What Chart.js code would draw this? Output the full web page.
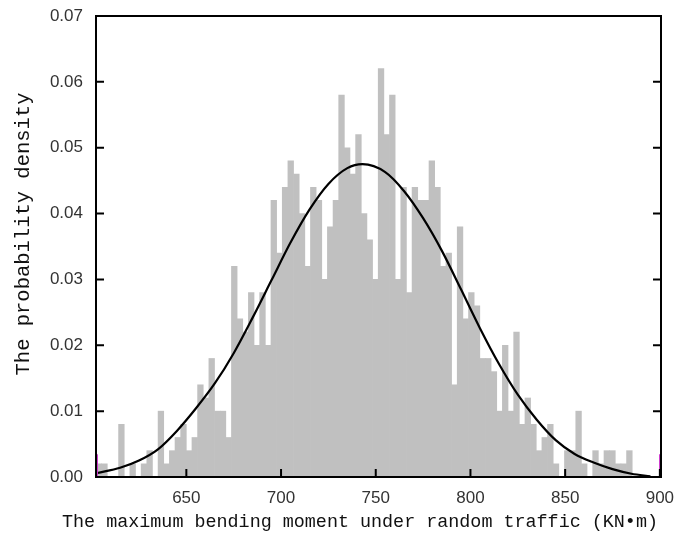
<!DOCTYPE html>
<html>
<head>
<meta charset="utf-8">
<script src="https://cdn.jsdelivr.net/npm/chart.js@4.4.1/dist/chart.umd.min.js"></script>
<style>
  html, body { margin: 0; padding: 0; background: #fff; }
  #wrap { width: 675px; height: 540px; }
</style>
</head>
<body>
<div id="wrap"><canvas id="histChart" width="675" height="540"></canvas></div>
<script>
// 100 equal bins, heights
const binStart = 602.3;
const binWidth = 2.98;
const binHeights = [
  0.002, 0.002, 0, 0, 0.008, 0, 0.002, 0, 0.002, 0.004,
  0, 0.010, 0.002, 0.004, 0.006, 0.008, 0.004, 0.006, 0.014, 0.012,
  0.018, 0.010, 0.010, 0.006, 0.032, 0.024, 0.022, 0.028, 0.020, 0.028,
  0.020, 0.042, 0.034, 0.044, 0.048, 0.046, 0.040, 0.032, 0.044, 0.042,
  0.030, 0.038, 0.042, 0.058, 0.050, 0.046, 0.052, 0.040, 0.036, 0.030,
  0.062, 0.052, 0.058, 0.030, 0.044, 0.028, 0.044, 0.042, 0.042, 0.048,
  0.044, 0.032, 0.034, 0.014, 0.038, 0.024, 0.028, 0.026, 0.018, 0.018,
  0.016, 0.010, 0.020, 0.010, 0.022, 0.008, 0.012, 0.008, 0.004, 0.006,
  0.008, 0.002, 0, 0.004, 0.004, 0.010, 0.002, 0, 0.004, 0.002,
  0.004, 0.004, 0.002, 0.002, 0.004, 0, 0, 0, 0, 0
];

// fitted density curve
const curveX = [603, 615, 625, 635, 645, 655, 665, 675, 685, 695, 705, 715, 725, 735, 743,
                755, 765, 775, 785, 795, 805, 815, 825, 835, 845, 855, 865, 875, 885, 895];
const curveY = [0.0006, 0.0014, 0.0025, 0.0042, 0.0070, 0.0104, 0.0142, 0.0188, 0.0242, 0.0299,
                0.0356, 0.0406, 0.0445, 0.0469, 0.0475, 0.0463, 0.0434, 0.0393, 0.0343, 0.0285,
                0.0226, 0.0172, 0.0125, 0.0087, 0.0056, 0.0035, 0.0022, 0.0012, 0.0005, 0.0001];

// small magenta marks at both ends of the range
const edgeMarkX = [602.8, 900.1];
const edgeMarkY = [0.0018, 0.0018];

const xTickValues = [650, 700, 750, 800, 850, 900];
const yTickValues = [0, 0.01, 0.02, 0.03, 0.04, 0.05, 0.06, 0.07];

const xTitle = 'The maximum bending moment under random traffic (KN\u2022m)';
const yTitle = 'The probability density';

const xMin = 602.3;
const xMax = 900.6;

const tickFont = { family: "'Liberation Sans', Arial, sans-serif", size: 17 };
const titleFamily = "'Liberation Mono', 'DejaVu Sans Mono', monospace";

// box around the plot, inward tick marks and the two axis titles
const framePlugin = {
    id: 'frame',
    afterDatasetsDraw(chart) {
        const { ctx, chartArea: a, scales: { x, y } } = chart;
        ctx.save();
        ctx.strokeStyle = '#000';
        ctx.lineWidth = 2;
        ctx.strokeRect(a.left, a.top, a.right - a.left, a.bottom - a.top);
        ctx.beginPath();
        yTickValues.forEach(v => {
            const py = y.getPixelForValue(v);
            ctx.moveTo(a.left, py);
            ctx.lineTo(a.left + 8, py);
            ctx.moveTo(a.right, py);
            ctx.lineTo(a.right - 8, py);
        });
        xTickValues.forEach(v => {
            const px = x.getPixelForValue(v);
            ctx.moveTo(px, a.bottom);
            ctx.lineTo(px, a.bottom - 8);
        });
        ctx.stroke();

        ctx.fillStyle = '#111';
        ctx.textAlign = 'center';
        ctx.textBaseline = 'middle';
        ctx.font = '18.4px ' + titleFamily;
        ctx.fillText(xTitle, 360, 522);
        ctx.translate(24, 234);
        ctx.rotate(-Math.PI / 2);
        ctx.font = '20.5px ' + titleFamily;
        ctx.fillText(yTitle, 0, 0);
        ctx.restore();
    }
};

const barPoints = binHeights.map((h, i) => ({ x: binStart + binWidth * (i + 0.5), y: h }));
const curvePoints = curveX.map((v, i) => ({ x: v, y: curveY[i] }));
const markPoints = edgeMarkX.map((v, i) => ({ x: v, y: edgeMarkY[i] }));

new Chart(document.getElementById('histChart'), {
    type: 'bar',
    data: {
        datasets: [
            {
                type: 'scatter',
                data: markPoints,
                pointStyle: 'line',
                rotation: 90,
                radius: 11,
                borderWidth: 2,
                borderColor: '#cc33cc',
                backgroundColor: '#cc33cc',
                order: 0
            },
            {
                type: 'line',
                data: curvePoints,
                borderColor: '#000',
                borderWidth: 2.2,
                pointRadius: 0,
                cubicInterpolationMode: 'monotone',
                fill: false,
                order: 1
            },
            {
                type: 'bar',
                data: barPoints,
                backgroundColor: '#c0c0c0',
                borderWidth: 0,
                barPercentage: 1.0,
                categoryPercentage: 1.0,
                order: 2
            }
        ]
    },
    plugins: [framePlugin],
    options: {
        responsive: false,
        animation: false,
        layout: { padding: { left: 0, right: 14, top: 16, bottom: 0 } },
        plugins: {
            legend: { display: false },
            tooltip: { enabled: false }
        },
        scales: {
            x: {
                type: 'linear',
                min: xMin,
                max: xMax,
                offset: false,
                grid: { display: false, drawTicks: false },
                border: { display: false },
                afterBuildTicks: s => { s.ticks = xTickValues.map(v => ({ value: v })); },
                afterFit: s => {
                    s.height = 63;
                    s.paddingLeft = 0;
                    s.paddingRight = 0;
                },
                ticks: {
                    font: tickFont,
                    color: '#333',
                    padding: 11,
                    maxRotation: 0,
                    autoSkip: false,
                    callback: v => String(v)
                }
            },
            y: {
                min: 0,
                max: 0.07,
                grid: { display: false, drawTicks: false },
                border: { display: false },
                afterBuildTicks: s => { s.ticks = yTickValues.map(v => ({ value: v })); },
                afterFit: s => {
                    s.width = 96;
                    s.paddingTop = 0;
                    s.paddingBottom = 0;
                },
                ticks: {
                    font: tickFont,
                    color: '#333',
                    padding: 13,
                    callback: v => v.toFixed(2)
                }
            }
        }
    }
});
</script>
</body>
</html>
